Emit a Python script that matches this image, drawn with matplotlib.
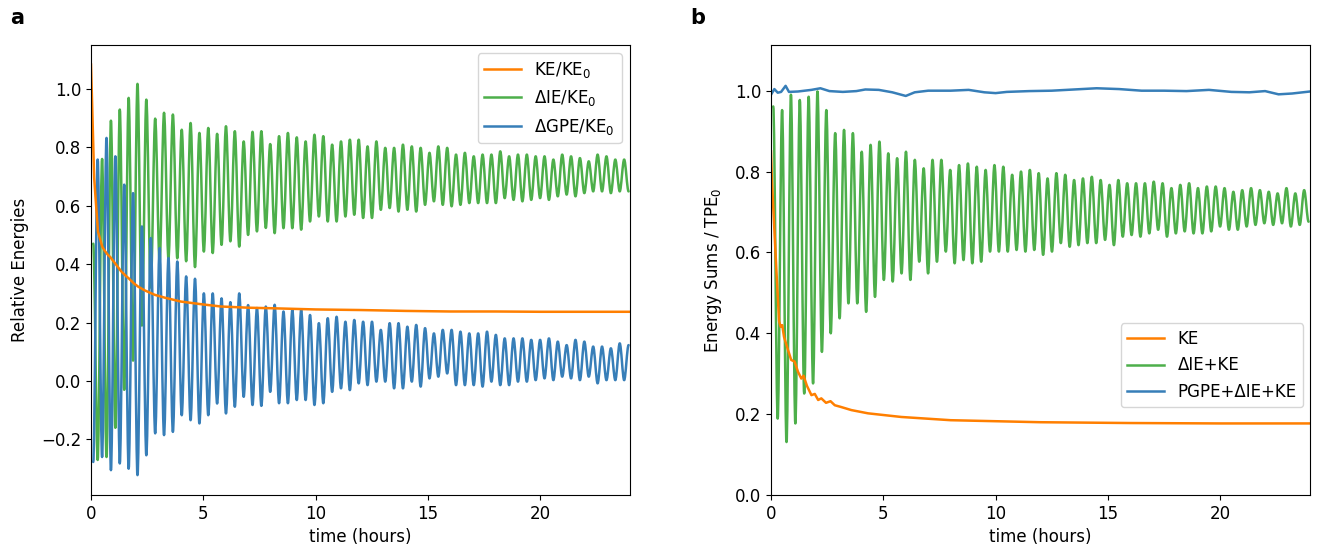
import numpy as np
import matplotlib
matplotlib.use("Agg")
import matplotlib.pyplot as plt
from matplotlib.path import Path
from matplotlib.patches import PathPatch

plt.rcParams['font.size'] = 12

# oscillation period (hours) and time of the first extremum
period = 0.394
t_first = 0.1

# --- panel a: energies relative to KE0 ---
# dIE/KE0: successive maxima, then the minima that follow them
ie_a_max = [0.47, 0.76, 0.891, 0.929, 0.969, 1.017, 0.963, 0.898, 0.918, 0.912,
            0.860, 0.883, 0.849, 0.866, 0.846, 0.872, 0.855, 0.820, 0.853, 0.855,
            0.811, 0.838, 0.849, 0.834, 0.820, 0.843, 0.838, 0.809, 0.820, 0.826,
            0.826, 0.803, 0.820, 0.798, 0.798, 0.809, 0.803, 0.798, 0.781, 0.803,
            0.798, 0.775, 0.781, 0.769, 0.775, 0.775, 0.786, 0.769, 0.775, 0.775,
            0.769, 0.769, 0.758, 0.775, 0.769, 0.763, 0.752, 0.775, 0.769, 0.758,
            0.758]
ie_a_min = [-0.27, -0.26, -0.16, -0.03, 0.07, 0.19, 0.32, 0.41, 0.42, 0.42,
            0.41, 0.39, 0.443, 0.438, 0.466, 0.478, 0.46, 0.50, 0.512, 0.524,
            0.506, 0.523, 0.523, 0.518, 0.546, 0.563, 0.546, 0.546, 0.563, 0.569,
            0.558, 0.558, 0.586, 0.592, 0.580, 0.586, 0.580, 0.603, 0.615, 0.603,
            0.598, 0.603, 0.609, 0.609, 0.609, 0.609, 0.626, 0.620, 0.615, 0.620,
            0.626, 0.620, 0.632, 0.638, 0.632, 0.643, 0.649, 0.649, 0.643, 0.649,
            0.649]

# dGPE/KE0: minima first, then maxima
gpe_a_min = [-0.277, -0.26, -0.305, -0.282, -0.30, -0.322, -0.254, -0.179, -0.185, -0.174,
             -0.117, -0.134, -0.145, -0.117, -0.077, -0.111, -0.088, -0.054, -0.082, -0.085,
             -0.037, -0.076, -0.076, -0.065, -0.065, -0.082, -0.076, -0.037, -0.025, -0.031,
             -0.008, -0.014, -0.002, -0.002, -0.025, -0.025, -0.002, -0.019, 0.009, 0.015,
             0.026, -0.014, -0.014, -0.014, -0.019, -0.002, -0.014, -0.014, -0.002, -0.002,
             0.003, 0.009, 0.003, 0.015, 0.009, 0.003, 0.015, -0.008, 0.003, 0.003,
             0.003]
gpe_a_max = [0.758, 0.832, 0.769, 0.672, 0.643, 0.529, 0.489, 0.455, 0.421, 0.409,
             0.358, 0.35, 0.30, 0.30, 0.283, 0.27, 0.30, 0.26, 0.25, 0.255,
             0.261, 0.238, 0.243, 0.243, 0.226, 0.198, 0.215, 0.220, 0.203, 0.209,
             0.203, 0.203, 0.175, 0.198, 0.198, 0.186, 0.192, 0.181, 0.163, 0.175,
             0.175, 0.169, 0.163, 0.163, 0.169, 0.158, 0.146, 0.146, 0.146, 0.141,
             0.141, 0.146, 0.135, 0.123, 0.141, 0.135, 0.118, 0.118, 0.112, 0.129,
             0.123]

# KE/KE0
ke_a_t = [0, 0.05, 0.14, 0.31, 0.5, 0.62, 0.75, 0.85, 1.0, 1.2, 1.35, 1.55, 1.7, 1.9,
          2.1, 2.4, 2.84, 3.3, 4.0, 5.0, 5.8, 7.0, 8.1, 10, 12, 14, 16, 18, 20, 22, 24]
ke_a = [1.083, 0.95, 0.695, 0.512, 0.46, 0.445, 0.432, 0.425, 0.41, 0.39, 0.375, 0.36,
        0.35, 0.335, 0.323, 0.31, 0.295, 0.285, 0.272, 0.262, 0.255, 0.251, 0.249,
        0.245, 0.243, 0.240, 0.238, 0.238, 0.237, 0.237, 0.237]

# --- panel b: energy sums relative to TPE0 ---
sum_b_max = [0.961, 0.952, 0.99, 0.977, 0.985, 0.998, 0.952, 0.895, 0.903, 0.895,
             0.849, 0.866, 0.874, 0.845, 0.833, 0.849, 0.829, 0.808, 0.829, 0.829,
             0.804, 0.816, 0.820, 0.812, 0.804, 0.816, 0.812, 0.792, 0.800, 0.804,
             0.796, 0.783, 0.796, 0.792, 0.779, 0.783, 0.787, 0.779, 0.767, 0.779,
             0.771, 0.771, 0.771, 0.775, 0.771, 0.759, 0.767, 0.771, 0.759, 0.763,
             0.763, 0.759, 0.750, 0.754, 0.759, 0.754, 0.750, 0.746, 0.759, 0.746,
             0.754]
sum_b_min = [0.189, 0.131, 0.177, 0.251, 0.276, 0.354, 0.40, 0.437, 0.474, 0.474,
             0.453, 0.49, 0.532, 0.528, 0.548, 0.532, 0.577, 0.548, 0.577, 0.602,
             0.573, 0.581, 0.573, 0.577, 0.602, 0.602, 0.602, 0.606, 0.602, 0.606,
             0.594, 0.602, 0.623, 0.614, 0.618, 0.623, 0.623, 0.631, 0.618, 0.639,
             0.643, 0.639, 0.647, 0.656, 0.639, 0.647, 0.652, 0.647, 0.647, 0.652,
             0.664, 0.656, 0.656, 0.664, 0.668, 0.672, 0.668, 0.672, 0.664, 0.668,
             0.676]

ke_b_t = [0, 0.04, 0.24, 0.36, 0.43, 0.5, 0.58, 0.75, 0.9, 1.05, 1.2, 1.35, 1.45, 1.6,
          1.8, 1.95, 2.1, 2.24, 2.45, 2.65, 2.84, 3.1, 3.58, 4.32, 5.8, 8.0, 12, 16, 20, 24]
ke_b = [0.85, 0.779, 0.556, 0.43, 0.416, 0.42, 0.391, 0.36, 0.334, 0.33, 0.305, 0.288,
        0.295, 0.27, 0.247, 0.25, 0.235, 0.239, 0.228, 0.232, 0.222, 0.218, 0.210,
        0.202, 0.193, 0.185, 0.180, 0.178, 0.177, 0.177]

total_b_t = [0, 0.15, 0.3, 0.45, 0.65, 0.8, 1.2, 1.8, 2.2, 2.6, 3.2, 3.8, 4.2, 4.8,
             5.4, 6.0, 6.4, 7.0, 8.0, 8.8, 9.5, 10.0, 10.5, 11.5, 12.5, 13.5, 14.5,
             15.5, 16.5, 17.5, 18.5, 19.5, 20.5, 21.3, 22.0, 22.6, 23.2, 24]
total_b = [0.99, 1.004, 0.995, 0.997, 1.012, 0.997, 0.998, 1.002, 1.006, 0.999, 0.997,
           0.999, 1.003, 1.002, 0.996, 0.987, 0.996, 1.0, 1.0, 1.002, 0.996, 0.994,
           0.997, 0.999, 1.0, 1.003, 1.006, 1.004, 1.0, 1.0, 0.999, 1.002, 0.997,
           0.996, 0.999, 0.991, 0.993, 0.998]

c_orange = '#ff7f00'
c_green = '#4daf4a'
c_blue = '#377eb8'


def extrema_series(first, second, t0, per):
    """join alternating extrema into one time series"""
    n = len(first) + len(second)
    t = t0 + 0.5 * per * np.arange(n)
    v = np.empty(n)
    v[0::2] = first
    v[1::2] = second
    return t, v


def wave(ax, t, v, color, lw, label):
    """draw extrema joined by bezier segments with flat tangents at each turn"""
    verts = [(t[0], v[0])]
    codes = [Path.MOVETO]
    for i in range(len(t) - 1):
        dt = (t[i + 1] - t[i]) / 3.0
        verts += [(t[i] + dt, v[i]), (t[i + 1] - dt, v[i + 1]), (t[i + 1], v[i + 1])]
        codes += [Path.CURVE4] * 3
    ax.add_patch(PathPatch(Path(verts, codes), fill=False, edgecolor=color,
                           lw=lw, capstyle='round', joinstyle='round'))
    # legend entry
    ax.plot([], [], color=color, lw=lw, label=label)


W, H = 1317, 556
fig = plt.figure(figsize=(W / 100, H / 100), dpi=100)
ax1 = fig.add_axes([91 / W, 1 - 495 / H, (630 - 91) / W, (495 - 45) / H])
ax2 = fig.add_axes([771 / W, 1 - 495 / H, (1310 - 771) / W, (495 - 45) / H])

t_ie, v_ie = extrema_series(ie_a_max, ie_a_min, t_first, period)
t_gpe, v_gpe = extrema_series(gpe_a_min, gpe_a_max, t_first, period)
ax1.plot(ke_a_t, ke_a, color=c_orange, lw=1.8, label='KE/KE$_0$')
wave(ax1, t_ie, v_ie, c_green, 1.8, 'ΔIE/KE$_0$')
wave(ax1, t_gpe, v_gpe, c_blue, 1.8, 'ΔGPE/KE$_0$')
ax1.set_xlim(0, 24)
ax1.set_ylim(-0.39, 1.15)
ax1.set_xticks([0, 5, 10, 15, 20])
ax1.set_yticks([-0.2, 0.0, 0.2, 0.4, 0.6, 0.8, 1.0])
ax1.set_xlabel('time (hours)')
ax1.set_ylabel('Relative Energies', labelpad=9)
ax1.legend(loc='upper right', handlelength=2.2)

t_s, v_s = extrema_series(sum_b_max, sum_b_min, t_first, period)
ax2.plot(ke_b_t, ke_b, color=c_orange, lw=1.8, label='KE')
wave(ax2, t_s, v_s, c_green, 1.8, 'ΔIE+KE')
ax2.plot(total_b_t, total_b, color=c_blue, lw=1.8, label='PGPE+ΔIE+KE')
ax2.set_xlim(0, 24)
ax2.set_ylim(0, 1.113)
ax2.set_xticks([0, 5, 10, 15, 20])
ax2.set_yticks([0.0, 0.2, 0.4, 0.6, 0.8, 1.0])
ax2.set_xlabel('time (hours)')
ax2.set_ylabel('Energy Sums / TPE$_0$', labelpad=8)
ax2.legend(loc='lower right', bbox_to_anchor=(1.003, 0.176), handlelength=2.2)

fig.text(10 / W, 1 - 24 / H, 'a', fontsize=15, fontweight='bold')
fig.text(690 / W, 1 - 24 / H, 'b', fontsize=15, fontweight='bold')

fig.savefig('out.png', dpi=100)
